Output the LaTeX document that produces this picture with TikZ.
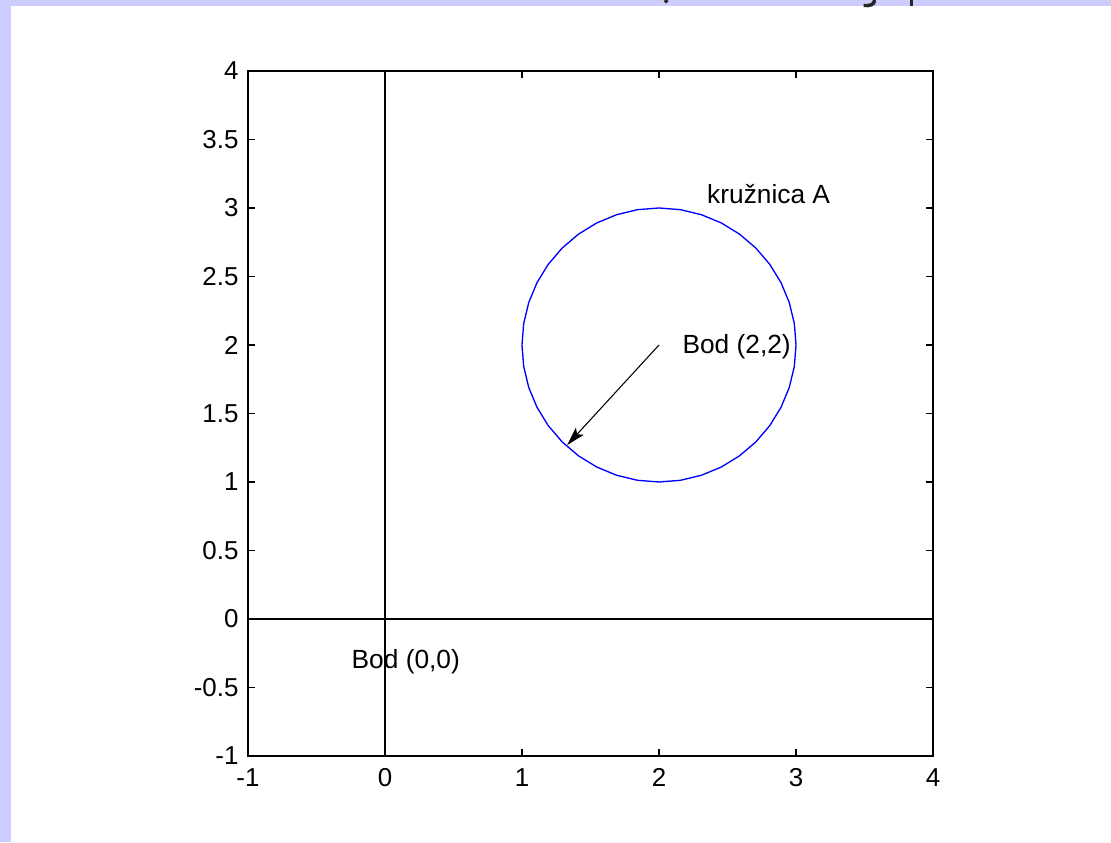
\documentclass[tikz,border=0pt]{standalone}
\usepackage{fontspec}
\setmainfont{Liberation Sans}
\usetikzlibrary{arrows.meta}

\definecolor{slidebg}{RGB}{204,204,255}
\definecolor{plotblue}{RGB}{0,0,255}

\tikzset{
    axisline/.style={line width=1.2pt, black},
    ticklbl/.style={inner sep=0pt, font=\fontsize{19.5}{21}\selectfont},
    txtlbl/.style={inner sep=0pt, anchor=west, font=\fontsize{19.8}{21}\selectfont},
}

\begin{document}
\begin{tikzpicture}[x=3.625cm, y=3.625cm]
\useasboundingbox (-2.810,-1.628) rectangle (5.299,4.518);

% slide background
\fill[slidebg] (-2.810,-1.628) rectangle (5.299,4.518);
\fill[white] (-2.730,-1.628) rectangle (5.299,4.474);

% clipped bits of the slide title
\begin{scope}[shift={(-2.810,4.518)}, x=0.7507pt, y=-0.7507pt, line width=2.6pt, black!85]
    \draw (667,0) -- (669,2.5);
    \draw (877,0) .. controls (877,5) and (872,6) .. (866,5.5);
    \draw (914,0) -- (914,6);
\end{scope}

% coordinates
\coordinate (ctr) at (2,2);
\coordinate (tip) at (1.33,1.27);
\coordinate (xaxL) at (-1,0);
\coordinate (xaxR) at (4,0);
\coordinate (yaxB) at (0,-1);
\coordinate (yaxT) at (0,4);

% box and ticks
\draw[axisline] (-1,-1) rectangle (4,4);
\foreach \t in {-1,...,4} {
    \draw[axisline] (\t,-1) -- ++(0,0.051);
    \draw[axisline] (\t,4) -- ++(0,-0.051);
    \node[ticklbl, anchor=north] (xl\t) at ([yshift=-9pt]\t,-1) {\t};
}
\foreach \t/\lab [count=\i] in {-1/-1,-0.5/-0.5,0/0,0.5/0.5,1/1,1.5/1.5,2/2,2.5/2.5,3/3,3.5/3.5,4/4} {
    \draw[axisline] (-1,\t) -- ++(0.051,0);
    \draw[axisline] (4,\t) -- ++(-0.051,0);
    \node[ticklbl, anchor=east] (yl\i) at ([xshift=-7pt]-1,\t) {\lab};
}

% the two lines through the origin
\draw[axisline] (xaxL) -- (xaxR);
\draw[axisline] (yaxB) -- (yaxT);

% circle A
\draw[plotblue, line width=1pt] plot[samples=41, domain=0:360] ({2+cos(\x)},{2+sin(\x)}) -- cycle;

% radius arrow
\draw[line width=0.8pt, -{Stealth[length=14pt, width=8pt, inset=3pt]}] (ctr) -- (tip);

% labels
\node[txtlbl] (lblA) at (2.35,3.1) {kružnica A};
\node[txtlbl] (lblC) at (2.17,1.99) {Bod (2,2)};
\node[txtlbl] (lblO) at (-0.245,-0.31) {Bod (0,0)};
\end{tikzpicture}
\end{document}
